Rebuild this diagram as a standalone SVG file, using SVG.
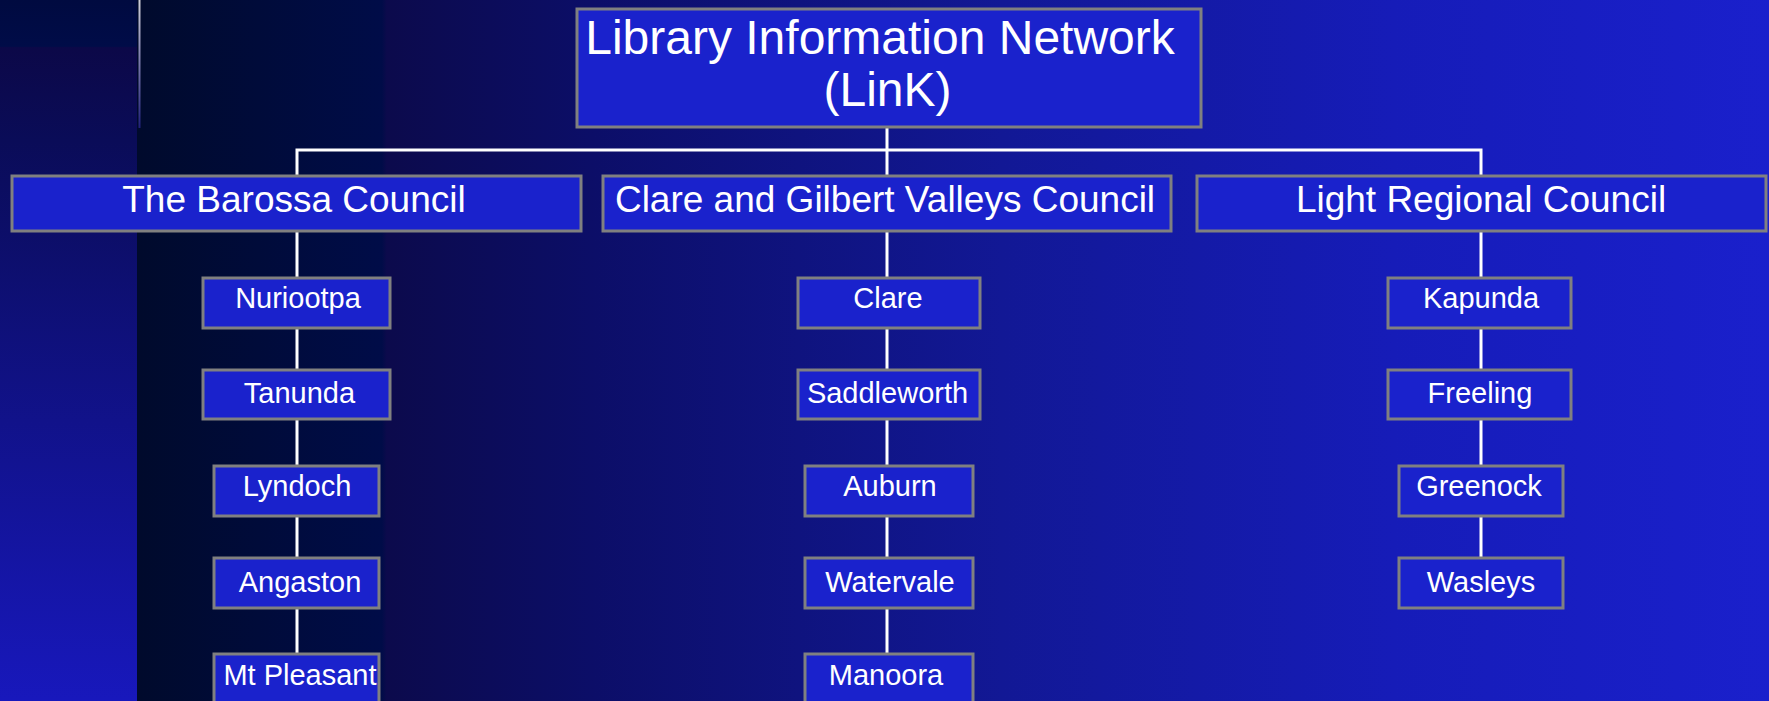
<svg xmlns="http://www.w3.org/2000/svg" width="1769" height="701" viewBox="0 0 1769 701">
<defs>
<linearGradient id="bgMain" gradientUnits="userSpaceOnUse" x1="137" y1="0" x2="1769" y2="0">
<stop offset="0" stop-color="#000a2c"/>
<stop offset="0.15" stop-color="#000c48"/>
<stop offset="0.153" stop-color="#0c0a4c"/>
<stop offset="0.28" stop-color="#0c0e68"/>
<stop offset="0.53" stop-color="#121895"/>
<stop offset="0.77" stop-color="#161cb8"/>
<stop offset="1" stop-color="#1a20cc"/>
</linearGradient>
<linearGradient id="bgLeft" gradientUnits="userSpaceOnUse" x1="0" y1="0" x2="0" y2="701">
<stop offset="0" stop-color="#000a40"/>
<stop offset="0.066" stop-color="#000c48"/>
<stop offset="0.068" stop-color="#0c0848"/>
<stop offset="0.2" stop-color="#0a0c58"/>
<stop offset="1" stop-color="#1818bc"/>
</linearGradient>
<linearGradient id="thin" x1="0" y1="0" x2="0" y2="1">
<stop offset="0" stop-color="#d0d0d8"/>
<stop offset="1" stop-color="#20207a"/>
</linearGradient>
<style>
.box{fill:#1a22cc;stroke:#808080;stroke-width:3}
.t{fill:#ffffff;font-family:"Liberation Sans",Arial,sans-serif;text-anchor:middle}
.top{font-size:48px}
.cn{font-size:37px}
.lib{font-size:29px}
.conn{stroke:#ffffff;stroke-width:3;fill:none}
</style>
</defs>
<rect x="0" y="0" width="1769" height="701" fill="url(#bgMain)"/>
<rect x="0" y="0" width="137" height="701" fill="url(#bgLeft)"/>
<rect x="138.5" y="0" width="2" height="128" fill="url(#thin)"/>

<g id="connectors">
<polyline class="conn" points="297,654 297,150 1481,150 1481,558"/>
<line class="conn" x1="887" y1="127" x2="887" y2="654"/>
</g>

<g id="node-link">
<rect class="box" x="577" y="9" width="624" height="118"/>
<text class="t top" x="880" y="54">Library Information Network</text>
<text class="t top" x="887.5" y="106">(LinK)</text>
</g>

<g id="node-barossa">
<rect class="box" x="12" y="176" width="569" height="55"/>
<text class="t cn" x="294" y="212">The Barossa Council</text>
</g>
<g id="node-clare-gilbert">
<rect class="box" x="603" y="176" width="568" height="55"/>
<text class="t cn" x="885" y="212">Clare and Gilbert Valleys Council</text>
</g>
<g id="node-light">
<rect class="box" x="1197" y="176" width="569" height="55"/>
<text class="t cn" x="1481" y="212">Light Regional Council</text>
</g>

<g id="node-nuriootpa"><rect class="box" x="203" y="278" width="187" height="50"/><text class="t lib" x="298" y="308">Nuriootpa</text></g>
<g id="node-tanunda"><rect class="box" x="203" y="370" width="187" height="49"/><text class="t lib" x="299.5" y="403">Tanunda</text></g>
<g id="node-lyndoch"><rect class="box" x="214" y="466" width="165" height="50"/><text class="t lib" x="297" y="496">Lyndoch</text></g>
<g id="node-angaston"><rect class="box" x="214" y="558" width="165" height="50"/><text class="t lib" x="300" y="592">Angaston</text></g>
<g id="node-mtpleasant"><rect class="box" x="214" y="654" width="165" height="52"/><text class="t lib" x="300" y="685">Mt Pleasant</text></g>

<g id="node-clare"><rect class="box" x="798" y="278" width="182" height="50"/><text class="t lib" x="888" y="308">Clare</text></g>
<g id="node-saddleworth"><rect class="box" x="798" y="370" width="182" height="49"/><text class="t lib" x="887.5" y="403">Saddleworth</text></g>
<g id="node-auburn"><rect class="box" x="805" y="466" width="168" height="50"/><text class="t lib" x="890" y="496">Auburn</text></g>
<g id="node-watervale"><rect class="box" x="805" y="558" width="168" height="50"/><text class="t lib" x="890" y="592">Watervale</text></g>
<g id="node-manoora"><rect class="box" x="805" y="654" width="168" height="52"/><text class="t lib" x="886" y="685">Manoora</text></g>

<g id="node-kapunda"><rect class="box" x="1388" y="278" width="183" height="50"/><text class="t lib" x="1481" y="308">Kapunda</text></g>
<g id="node-freeling"><rect class="box" x="1388" y="370" width="183" height="49"/><text class="t lib" x="1480" y="403">Freeling</text></g>
<g id="node-greenock"><rect class="box" x="1399" y="466" width="164" height="50"/><text class="t lib" x="1479" y="496">Greenock</text></g>
<g id="node-wasleys"><rect class="box" x="1399" y="558" width="164" height="50"/><text class="t lib" x="1481" y="592">Wasleys</text></g>
</svg>
